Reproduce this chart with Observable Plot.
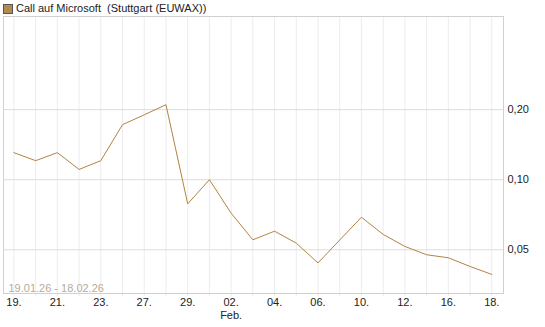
<!DOCTYPE html>
<html>
<head>
<meta charset="utf-8">
<script src="https://cdn.jsdelivr.net/npm/d3@7"></script>
<script src="https://cdn.jsdelivr.net/npm/@observablehq/plot@0.6"></script>
<style>
  body { margin: 0; background: #fff; font-family: "Liberation Sans", Arial, sans-serif; }
  #legend { position: relative; height: 15px; font-size: 11px; color: #222; }
  #legend .sw { position: absolute; left: 3px; top: 4px; width: 8px; height: 8px; background: #b38a52; border: 1px solid #555; }
  #legend .lab { position: absolute; left: 16px; top: 2px; white-space: pre; }
</style>
</head>
<body>
<div id="legend"><span class="sw"></span><span class="lab">Call auf Microsoft  (Stuttgart (EUWAX))</span></div>
<div id="chart"></div>
<script>
const dates = ["19.","20.","21.","22.","23.","26.","27.","28.","29.","30.","02.","03.","04.","05.","06.","09.","10.","11.","12.","13.","16.","17.","18."];
const values = [0.1307,0.1207,0.1307,0.1107,0.1207,0.1724,0.190,0.210,0.0788,0.100,0.0718,0.0552,0.0601,0.0534,0.0439,0.0551,0.0690,0.0582,0.0517,0.0476,0.0462,0.0424,0.0392];
const monthLabels = {10: "Feb."};
const yTicks = [0.05, 0.10, 0.20];
const rangeLabel = "19.01.26 - 18.02.26";

const data = dates.map((d, i) => ({i, d, v: values[i]}));
const xTicks = d3.range(0, dates.length, 2);

const chart = Plot.plot({
  width: 545,
  height: 312,
  marginTop: 1,
  marginLeft: 3,
  marginRight: 42,
  marginBottom: 34,
  style: {fontFamily: "'Liberation Sans', Arial, sans-serif", fontSize: "11px", color: "#222", background: "#fff"},
  x: {type: "linear", domain: [-0.48, dates.length - 0.46]},
  y: {type: "log", domain: [0.03245, 0.5024]},
  marks: [
    Plot.ruleX(d3.range(dates.length), {stroke: "#ececec", insetBottom: -3}),
    Plot.ruleY(yTicks, {stroke: "#dcdcdc"}),
    Plot.frame({stroke: "#d0d0d0"}),
    Plot.text([rangeLabel], {frameAnchor: "bottom-left", dx: 5, dy: -2, fill: "#b7ab97", fontSize: 11}),
    Plot.line(data, {x: "i", y: "v", stroke: "#b08443", strokeWidth: 1}),
    Plot.axisY({anchor: "right", ticks: yTicks, tickSize: 0, tickPadding: 4, tickFormat: d => d.toFixed(2).replace(".", ","), label: null}),
    Plot.axisX({ticks: xTicks, tickSize: 0, tickPadding: 3, lineHeight: 1.2, label: null,
      tickFormat: i => monthLabels[i] ? dates[i] + "\n" + monthLabels[i] : dates[i]})
  ]
});
document.getElementById("chart").appendChild(chart);
</script>
</body>
</html>
